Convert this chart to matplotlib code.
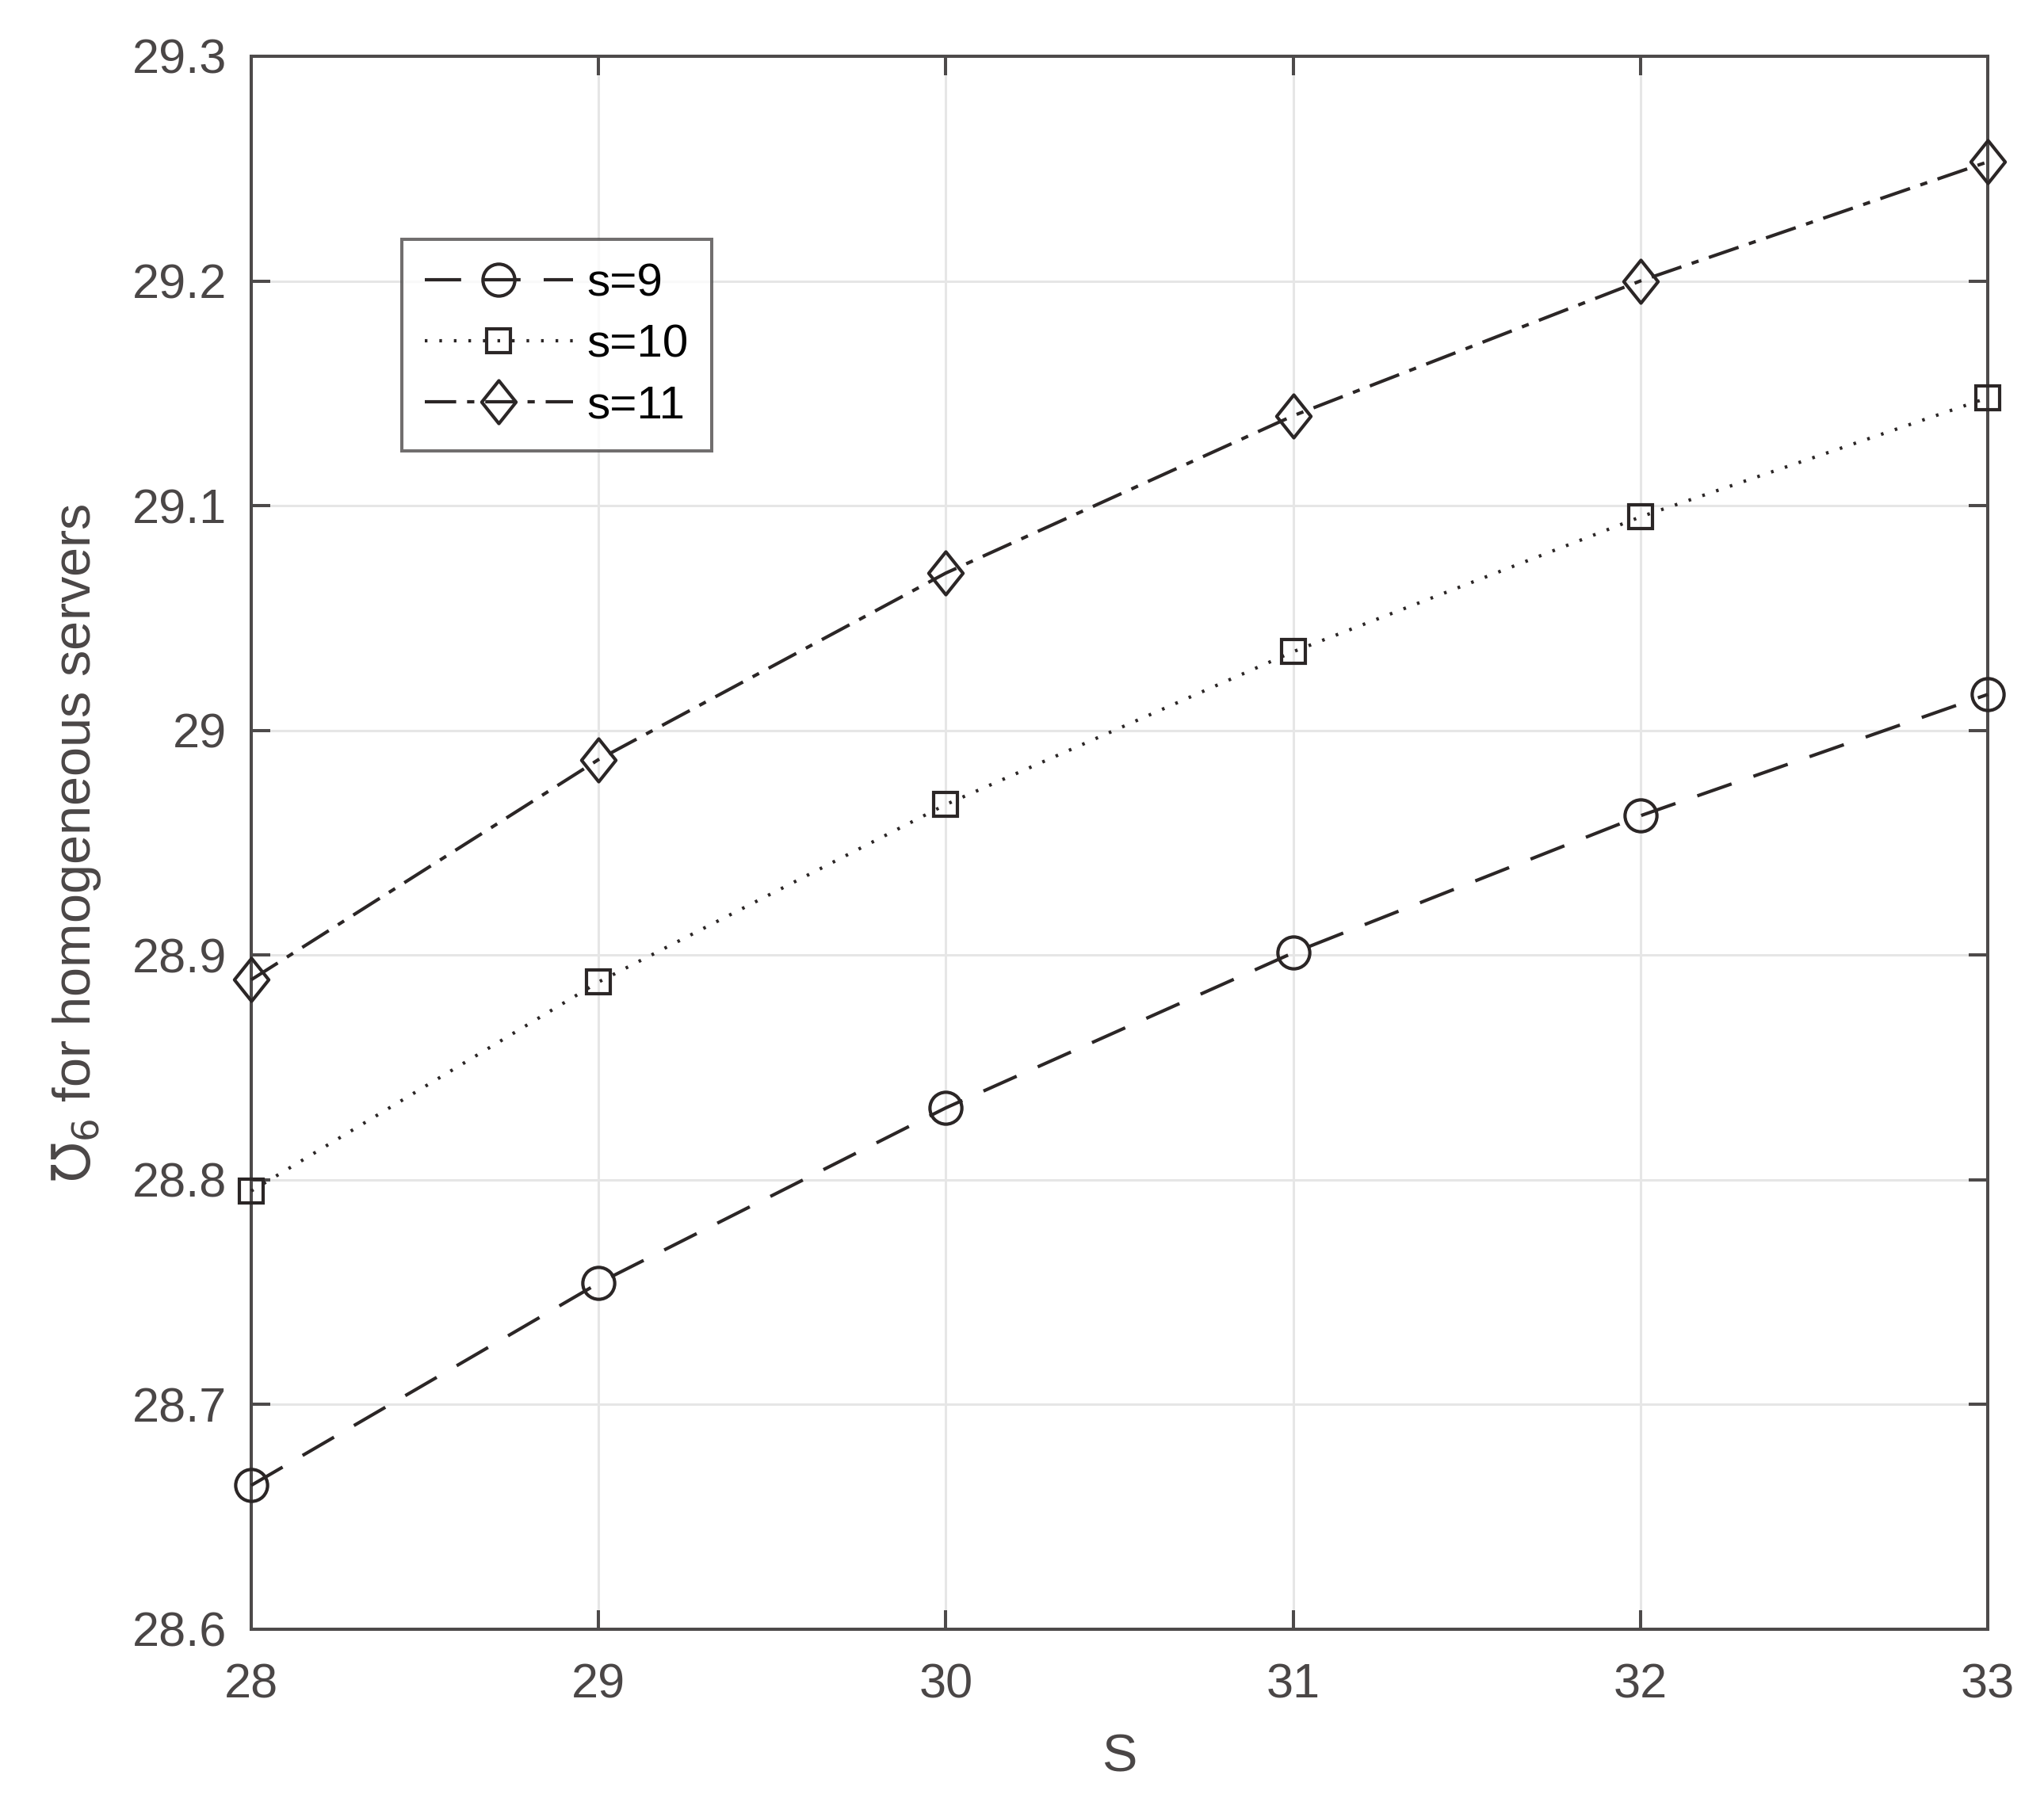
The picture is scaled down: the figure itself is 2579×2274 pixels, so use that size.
import matplotlib
matplotlib.use('Agg')
import matplotlib.pyplot as plt
from matplotlib.path import Path

S = [28, 29, 30, 31, 32, 33]
s9 = [28.664, 28.754, 28.832, 28.901, 28.962, 29.016]
s10 = [28.795, 28.888, 28.967, 29.035, 29.095, 29.148]
s11 = [28.889, 28.987, 29.070, 29.140, 29.200, 29.253]
labels = ['s=9', 's=10', 's=11']
yticks = [28.6, 28.7, 28.8, 28.9, 29.0, 29.1, 29.2, 29.3]
ytick_labels = ['28.6', '28.7', '28.8', '28.9', '29', '29.1', '29.2', '29.3']

plt.rcParams['font.family'] = ['Liberation Sans', 'DejaVu Sans']
plt.rcParams['mathtext.fontset'] = 'dejavusans'

axis_col = '#4d4a4a'
line_col = '#2b2626'
text_col = '#4a4646'

# matlab-style diamond (wider than matplotlib's thin diamond)
diamond = Path([(0, 1), (0.8, 0), (0, -1), (-0.8, 0), (0, 1)],
               [Path.MOVETO, Path.LINETO, Path.LINETO, Path.LINETO, Path.CLOSEPOLY])

fig = plt.figure(figsize=(25.79, 22.74), dpi=100)
ax = fig.add_axes([0.1229, 0.0959, 0.8496, 0.8729])

lw = 3.0
common = dict(color=line_col, lw=lw, mfc='none', mec=line_col, mew=lw,
              clip_on=False, zorder=3)
ax.plot(S, s9, dashes=(11, 7), marker='o', ms=29, label=labels[0], **common)
ax.plot(S, s10, dashes=(0.8, 3.6), marker='s', ms=22, label=labels[1], **common)
ax.plot(S, s11, dashes=(9.5, 3.3, 2.2, 3.3), marker=diamond, ms=39, label=labels[2], **common)

ax.set_xlim(28, 33)
ax.set_ylim(28.6, 29.3)
ax.set_xticks(S)
ax.set_yticks(yticks)
ax.set_yticklabels(ytick_labels)
ax.grid(True, color='#e6e6e6', lw=2.2)
ax.set_axisbelow(True)
for sp in ax.spines.values():
    sp.set_color(axis_col)
    sp.set_linewidth(2.9)
ax.tick_params(direction='in', length=17, width=2.9, colors=axis_col,
               labelsize=44, labelcolor=text_col, top=True, right=True, pad=22)
ax.tick_params(axis='x', pad=31)

ax.set_xlabel('S', fontsize=48, color=text_col, labelpad=23)
ax.set_ylabel(r'$\mho_6$ for homogeneous servers', fontsize=48, color=text_col, labelpad=27)

leg = ax.legend(loc='upper left', bbox_to_anchor=(0.0867, 0.8836), fontsize=42,
                frameon=True, fancybox=False, edgecolor=axis_col, handlelength=3.2,
                borderpad=0.5, labelspacing=0.4, handletextpad=0.3, borderaxespad=0)
leg.get_frame().set_linewidth(2.9)

fig.savefig('out.png', dpi=100, facecolor='white')
